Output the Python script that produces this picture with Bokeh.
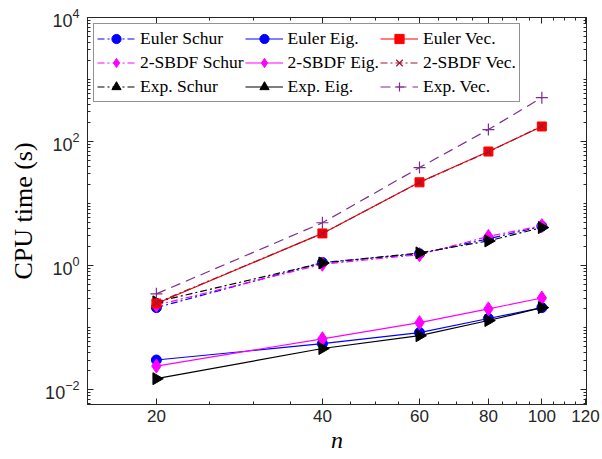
import math
from bokeh.plotting import figure
from bokeh.models import (Range1d, FixedTicker, LogAxis, Legend, LegendItem,
                          PrintfTickFormatter, LogTickFormatter, ColumnDataSource)
from bokeh.embed import file_html
from bokeh.resources import INLINE

# ---- data ----
n = [20, 40, 60, 80, 100]
euler_schur = [0.21, 1.12, 1.55, 2.7, 4.3]
sbdf_schur = [0.23, 1.05, 1.5, 2.95, 4.4]
exp_schur = [0.26, 1.1, 1.6, 2.5, 4.1]
euler_eig = [0.030, 0.055, 0.083, 0.14, 0.21]
sbdf_eig = [0.024, 0.066, 0.12, 0.20, 0.30]
exp_eig = [0.015, 0.046, 0.074, 0.13, 0.21]
euler_vec = [0.245, 3.3, 22, 69, 175]
sbdf_vec = [0.25, 3.3, 22, 68, 178]
exp_vec = [0.35, 4.9, 38, 156, 510]

x_ticks = [20, 40, 60, 80, 100, 120]
x_minor = [15, 25, 30, 35, 45, 50, 55, 65, 70, 75, 85, 90, 95, 105, 110, 115]
y_ticks = [1e-2, 1e0, 1e2, 1e4]
y_minor = [k * 10.0 ** d for d in range(-3, 4) for k in range(1, 10)]

AX = "#262626"
p = figure(width=602, height=459, x_axis_type="log", y_axis_type="log",
           x_range=Range1d(15, 120.5), y_range=Range1d(10 ** -2.24, 1e4),
           output_backend="svg", toolbar_location=None,
           min_border_left=87, min_border_right=16, min_border_top=17,
           min_border_bottom=55)
p.background_fill_color = "white"
p.border_fill_color = "white"
p.outline_line_color = AX
p.xgrid.visible = False
p.ygrid.visible = False

xt = FixedTicker(ticks=x_ticks, minor_ticks=x_minor)
yt = FixedTicker(ticks=y_ticks, minor_ticks=y_minor)


def style(ax, labels=True, size="17px"):
    ax.axis_line_color = AX
    ax.major_tick_line_color = AX
    ax.minor_tick_line_color = AX
    ax.major_tick_in = 6
    ax.major_tick_out = 0
    ax.minor_tick_in = 3
    ax.minor_tick_out = 0
    ax.major_label_text_font = "Liberation Sans"
    if labels:
        ax.major_label_text_font_size = size
        ax.major_label_text_color = AX
    else:
        ax.major_label_text_font_size = "1px"
        ax.major_label_text_alpha = 0
        ax.major_label_standoff = 0


xa = p.xaxis[0]
xa.ticker = xt
xa.formatter = PrintfTickFormatter(format="%d")
style(xa, size="17px")
xa.major_label_standoff = 5
xa.axis_label = "n"
xa.axis_label_text_font = "Liberation Serif"
xa.axis_label_text_font_style = "italic"
xa.axis_label_text_font_size = "24px"
xa.axis_label_standoff = 2
xa.axis_label_text_color = "black"

ya = p.yaxis[0]
ya.ticker = yt
ya.formatter = LogTickFormatter()
style(ya, size="18px")
ya.major_label_standoff = 8
ya.axis_label = "CPU time (s)"
ya.axis_label_text_font = "Liberation Serif"
ya.axis_label_text_font_style = "normal"
ya.axis_label_text_font_size = "26px"
ya.axis_label_standoff = 4
ya.axis_label_text_color = "black"

ra = LogAxis(ticker=yt, formatter=PrintfTickFormatter(format="%d"))
style(ra, labels=False)
p.add_layout(ra, "right")
ta = LogAxis(ticker=xt, formatter=PrintfTickFormatter(format="%d"))
style(ta, labels=False)
p.add_layout(ta, "above")

DD = "7 3 2 3"
series = [
    ("Euler Schur", euler_schur, "blue", DD, "circle", 10, 0.0),
    ("2-SBDF Schur", sbdf_schur, "magenta", DD, "diamond", 14, 0.0),
    ("Exp. Schur", exp_schur, "black", DD, "triangle", 12, -math.pi / 2),
    ("Euler Eig.", euler_eig, "blue", "solid", "circle", 10, 0.0),
    ("2-SBDF Eig.", sbdf_eig, "magenta", "solid", "diamond", 14, 0.0),
    ("Exp. Eig.", exp_eig, "black", "solid", "triangle", 12, -math.pi / 2),
    ("Euler Vec.", euler_vec, "red", "solid", "square", 9, 0.0),
    ("2-SBDF Vec.", sbdf_vec, "#A2142F", DD, "x", 8, 0.0),
    ("Exp. Vec.", exp_vec, "#7E2F8E", "10 6", "cross", 12, 0.0),
]

items = {}
for label, ys, color, dash, marker, size, ang in series:
    src = ColumnDataSource(dict(x=n, y=ys, a=[ang] * len(n)))
    lr = p.line("x", "y", source=src, line_color=color, line_width=1.2,
                line_dash=dash)
    if marker in ("x", "cross"):
        sr = p.scatter("x", "y", source=src, marker=marker, size=size,
                       line_color=color, line_width=1.2, fill_color=None)
    else:
        sr = p.scatter("x", "y", source=src, marker=marker, size=size,
                       line_color=color, fill_color=color, angle="a",
                       angle_units="rad")
    items[label] = LegendItem(label=label, renderers=[lr, sr])

order = ["Euler Schur", "Euler Eig.", "Euler Vec.",
         "2-SBDF Schur", "2-SBDF Eig.", "2-SBDF Vec.",
         "Exp. Schur", "Exp. Eig.", "Exp. Vec."]
leg = Legend(items=[items[k] for k in order], orientation="horizontal",
             ncols=3, location="top_left")
leg.margin = 6
leg.padding = 3
leg.spacing = 1
leg.glyph_width = 38
leg.glyph_height = 23
leg.label_height = 23
leg.label_standoff = 5
leg.label_text_font = "Liberation Serif"
leg.label_text_font_size = "17.5px"
leg.label_text_color = "black"
leg.border_line_color = AX
leg.border_line_width = 1
leg.background_fill_color = "white"
leg.background_fill_alpha = 1
p.add_layout(leg, "center")

open("out.html", "w").write(file_html(p, INLINE))
